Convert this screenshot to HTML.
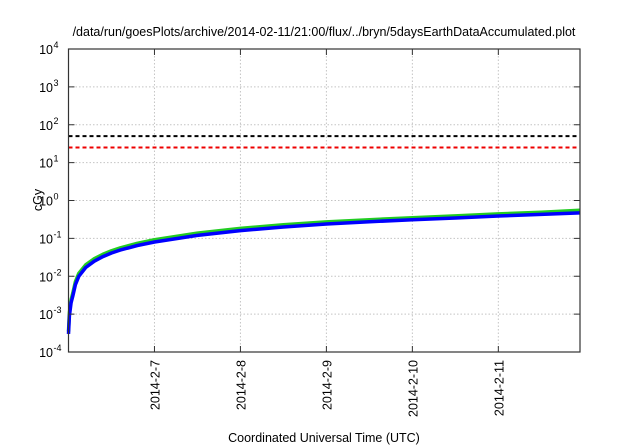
<!DOCTYPE html>
<html><head><meta charset="utf-8"><style>
body{margin:0;background:#fff;}
svg{display:block;font-family:"Liberation Sans",sans-serif;}
</style></head><body>
<svg id="chart" width="640" height="448" viewBox="0 0 640 448">
<text x="324" y="36" font-size="12.5" text-anchor="middle" fill="#000">/data/run/goesPlots/archive/2014-02-11/21:00/flux/../bryn/5daysEarthDataAccumulated.plot</text>
<g id="grid"></g>
<g id="series"></g>
<rect x="68.5" y="49" width="511.5" height="303" fill="none" stroke="#333" stroke-width="1.2"/>
<g id="axes"></g>
<text x="0" y="0" transform="translate(42,200) rotate(-90)" font-size="12.5" text-anchor="middle">cGy</text>
<text x="324" y="442" font-size="12.5" text-anchor="middle">Coordinated Universal Time (UTC)</text>
</svg>
<script>
const yExponents = [-4,-3,-2,-1,0,1,2,3,4];
const xTickDays = [7,8,9,10,11];
const xTickLabels = ["2014-2-7","2014-2-8","2014-2-9","2014-2-10","2014-2-11"];
const thresholdBlack = 50;
const thresholdRed = 25;
const timeDays = [6.0,6.01,6.03,6.05,6.08,6.12,6.2,6.3,6.4,6.5,6.6,6.8,7.0,7.5,8.0,8.5,9.0,9.5,10.0,10.5,11.0,11.5,11.95];
const doseBlue = [0.0003,0.0009,0.002,0.003,0.006,0.01,0.017,0.025,0.033,0.041,0.049,0.065,0.08,0.12,0.16,0.2,0.24,0.275,0.31,0.345,0.39,0.43,0.47];
const doseGreen = [0.00035,0.0011,0.0024,0.0036,0.0072,0.012,0.02,0.029,0.038,0.047,0.056,0.074,0.092,0.138,0.183,0.228,0.273,0.312,0.352,0.392,0.443,0.49,0.55];

const X0=68.5,X1=580,Y0=352,Y1=49;
const dayMin=6.0, dayMax=11.95;
const xs=d=>X0+(d-dayMin)/(dayMax-dayMin)*(X1-X0);
const ys=v=>Y0-(Math.log10(v)+4)/8*(Y0-Y1);
const NS="http://www.w3.org/2000/svg";
function mk(tag,attrs,parent){const e=document.createElementNS(NS,tag);for(const k in attrs)e.setAttribute(k,attrs[k]);parent.appendChild(e);return e;}
const grid=document.getElementById('grid'),axes=document.getElementById('axes'),series=document.getElementById('series');
yExponents.forEach(p=>{
  const y=ys(Math.pow(10,p));
  if(p>-4&&p<4){const g=mk('line',{x1:X0,x2:X1,y1:y,y2:y,stroke:'#c4c4c4','stroke-dasharray':'1.5,2','stroke-width':1},grid);
  
  }
  const t1=mk('line',{x1:X0,x2:X0+6,y1:y,y2:y,stroke:'#333'},axes);
  
  
  const t2=mk('line',{x1:X1-6,x2:X1,y1:y,y2:y,stroke:'#333'},axes);
  
  
  const tx=mk('text',{x:53,y:y+5,'font-size':12.5,'text-anchor':'end'},axes);
  
  
  tx.textContent='10';
  const ex=mk('text',{x:53.5,y:y-1,'font-size':9,'text-anchor':'start'},axes);
  
  
  ex.textContent=String(p);
});
xTickDays.forEach((d,i)=>{
  const x=xs(d);
  const g=mk('line',{x1:x,x2:x,y1:Y1,y2:Y0,stroke:'#c4c4c4','stroke-dasharray':'1.5,2'},grid);
  
  
  const t1=mk('line',{x1:x,x2:x,y1:Y0,y2:Y0-6,stroke:'#333'},axes);
  
  
  const t2=mk('line',{x1:x,x2:x,y1:Y1,y2:Y1+6,stroke:'#333'},axes);
  
  
  const tx=mk('text',{x:0,y:0,'font-size':12.5,'text-anchor':'end',transform:`translate(${x+5},360) rotate(-90)`},axes);
  
  
  tx.textContent=xTickLabels[i];
});
const hb=mk('line',{x1:X0,x2:X1,y1:ys(thresholdBlack),y2:ys(thresholdBlack),stroke:'#000','stroke-width':2,'stroke-dasharray':'4,3'},series);


const hr=mk('line',{x1:X0,x2:X1,y1:ys(thresholdRed),y2:ys(thresholdRed),stroke:'#e00','stroke-width':2,'stroke-dasharray':'4,3'},series);


function path(vals){return vals.map((v,i)=>(i?'L':'M')+xs(timeDays[i]).toFixed(1)+','+ys(v).toFixed(1)).join('');}
const pg=mk('path',{d:path(doseGreen),fill:'none',stroke:'#2c2','stroke-width':3.5,'stroke-linejoin':'round'},series);


const pb=mk('path',{d:path(doseBlue),fill:'none',stroke:'#00f','stroke-width':3.5,'stroke-linejoin':'round'},series);


</script>
</body></html>
